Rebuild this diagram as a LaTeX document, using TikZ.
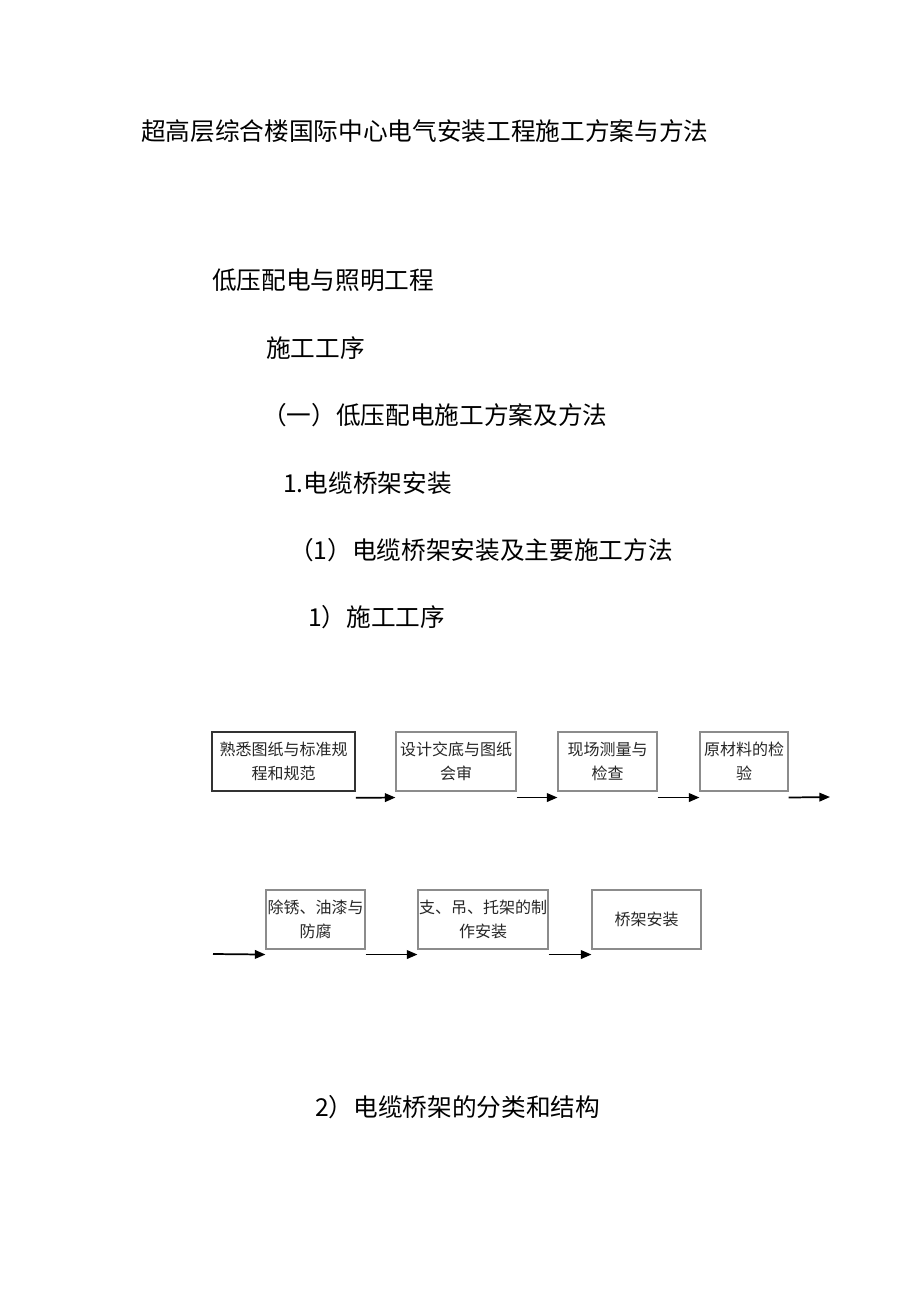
\documentclass[tikz,border=0pt]{standalone}
\usepackage{fontspec}
\setmainfont{Noto Sans CJK SC}
\usetikzlibrary{arrows.meta}

\begin{document}
\begin{tikzpicture}[x=0.75pt, y=-0.75pt,
  head/.style={anchor=west, inner sep=0pt, font=\fontsize{18.5pt}{22pt}\selectfont},
  stepbox/.style={draw=black!45, line width=0.8pt, align=center, inner sep=0pt,
    minimum height=44.25pt, font=\fontsize{12pt}{18pt}\selectfont, text=black!85},
  flow/.style={-{Triangle[length=8pt,width=6.5pt]}, line width=1.3pt, draw=black}]
\useasboundingbox (0,0) rectangle (920,1301);
% headings
\node[head] (T0) at (141, 131) {超高层综合楼国际中心电气安装工程施工方案与方法};
\node[head] (T1) at (212, 280) {低压配电与照明工程};
\node[head] (T2) at (266, 348) {施工工序};
\node[head] (T3) at (262, 415) {（一）低压配电施工方案及方法};
\node[head] (T4) at (283, 483) {1.电缆桥架安装};
\node[head] (T5) at (289, 550) {（1）电缆桥架安装及主要施工方法};
\node[head] (T6) at (308, 617) {1）施工工序};
\node[head] (T7) at (315, 1107) {2）电缆桥架的分类和结构};
% first row
\node[stepbox, draw=black!80, line width=1.2pt, minimum width=107.25pt] (S1) at (283.5, 761.5) {熟悉图纸与标准规\\程和规范};
\node[stepbox, minimum width=90pt] (S2) at (456, 761.5) {设计交底与图纸\\会审};
\node[stepbox, minimum width=74.25pt] (S3) at (607.5, 761.5) {现场测量与\\检查};
\node[stepbox, minimum width=66pt] (S4) at (744, 761.5) {原材料的检\\验};
% second row
\node[stepbox, minimum width=74.25pt] (S5) at (315.5, 919.5) {除锈、油漆与\\防腐};
\node[stepbox, minimum width=97.5pt] (S6) at (483, 919.5) {支、吊、托架的制\\作安装};
\node[stepbox, minimum width=81.75pt] (S7) at (646.5, 919.5) {桥架安装};
\coordinate (E1) at (830, 797);
\coordinate (B2) at (213, 954);
\draw [flow] ([yshift=-4.5pt]S1.south east) -- ([yshift=-4.5pt]S2.south west);
\draw [flow] ([yshift=-4.5pt]S2.south east) -- ([yshift=-4.5pt]S3.south west);
\draw [flow] ([yshift=-4.5pt]S3.south east) -- ([yshift=-4.5pt]S4.south west);
\draw [flow] ([yshift=-4.5pt]S4.south east) -- (E1);
\draw [flow] (B2) -- ([yshift=-3.75pt]S5.south west);
\draw [flow] ([yshift=-3.75pt]S5.south east) -- ([yshift=-3.75pt]S6.south west);
\draw [flow] ([yshift=-3.75pt]S6.south east) -- ([yshift=-3.75pt]S7.south west);
\end{tikzpicture}
\end{document}
